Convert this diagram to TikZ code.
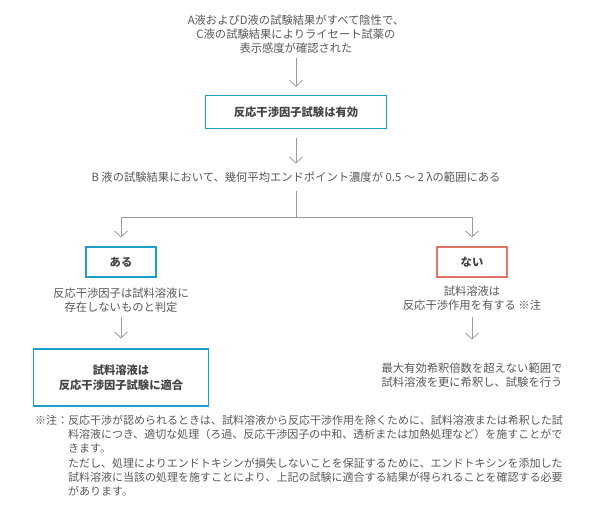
\documentclass[tikz,border=0pt]{standalone}
\usepackage{fontspec}
\setmainfont{Noto Sans CJK JP}
\usetikzlibrary{arrows.meta,positioning}
\definecolor{txtgray}{HTML}{595757}
\definecolor{boxtxt}{HTML}{464545}
\definecolor{linegray}{HTML}{9B9B9B}
\definecolor{okcyan}{HTML}{1AA0C8}
\definecolor{ngred}{HTML}{E27465}

\begin{document}
\begin{tikzpicture}[x=1pt, y=-1pt, on grid,
        every node/.style={text=txtgray, inner sep=0pt, align=center, font=\fontsize{11.3}{14}\selectfont},
        okbox/.style={draw=okcyan, line width=1.2pt, minimum width=70pt, minimum height=30pt, text=boxtxt, font=\fontsize{11.3}{15}\selectfont\bfseries},
        ngbox/.style={okbox, draw=ngred},
        arr/.style={draw=linegray, line width=0.8pt, -{Straight Barb[length=6pt, width=13pt]}}]
                \useasboundingbox (0,0) rectangle (600,518);

                \node                                     (res)     at (296,34)  {A液およびD液の試験結果がすべて陰性で、\\C液の試験結果によりライセート試薬の\\表示感度が確認された};
                \node[okbox, below = 78pt of res, minimum width=181pt, minimum height=33pt] (valid) {反応干渉因子試験は有効};
                \node[below = 65pt of valid]              (cond)     {B 液の試験結果において、幾何平均エンドポイント濃度が 0.5 ～ 2 λの範囲にある};
                \coordinate                               (split)   at (296,217);
                \node[okbox]                              (yes)     at (121,262) {ある};
                \node[ngbox]                              (no)      at (472,262) {ない};
                \node[below = 38pt of yes]                (absent)   {反応干渉因子は試料溶液に\\存在しないものと判定};
                \node[below = 36pt of no]                 (present)  {試料溶液は\\反応干渉作用を有する ※注};
                \node[okbox, below = 77.5pt of absent, minimum width=175pt, minimum height=57pt] (fit) {試料溶液は\\反応干渉因子試験に適合};
                \node[below = 77pt of present]            (dilute)   {最大有効希釈倍数を超えない範囲で\\試料溶液を更に希釈し、試験を行う};

                % note
                \node[anchor=north west, font=\fontsize{11}{14.2}\selectfont] (notehead) at (35,415) {※注：};
                \node[anchor=north west, align=left, font=\fontsize{11}{14.2}\selectfont] (notebody) at (68,415)
                    {反応干渉が認められるときは、試料溶液から反応干渉作用を除くために、試料溶液または希釈した試\\
                     料溶液につき、適切な処理（ろ過、反応干渉因子の中和、透析または加熱処理など）を施すことがで\\
                     きます。\\
                     ただし、処理によりエンドトキシンが損失しないことを保証するために、エンドトキシンを添加した\\
                     試料溶液に当該の処理を施すことにより、上記の試験に適合する結果が得られることを確認する必要\\
                     があります。};

                \draw
                    (res)     edge [arr, shorten <=5pt, shorten >=8pt]    (valid)
                    (valid)   edge [arr, shorten <=8.5pt, shorten >=8pt]  (cond)
                    (absent)  edge [arr, shorten <=4.5pt, shorten >=10pt] (fit)
                    (present) edge [arr, shorten <=6.5pt, shorten >=23pt] (dilute)
                    ;
                \draw[linegray, line width=0.8pt, shorten <=9pt] (cond) -- (split);
                \draw[arr, shorten >=9pt] (split) -| (yes);
                \draw[arr, shorten >=9pt] (split) -| (no);
            \end{tikzpicture}
\end{document}
